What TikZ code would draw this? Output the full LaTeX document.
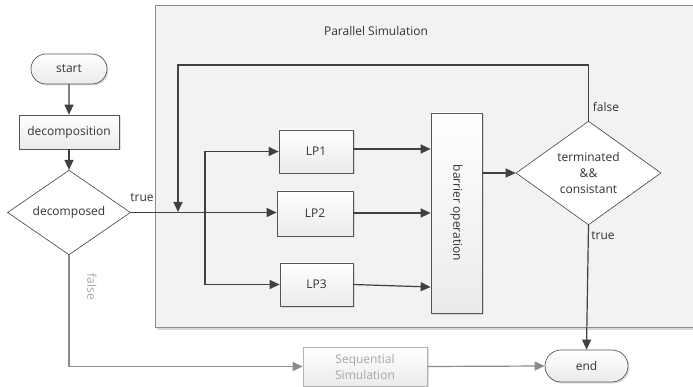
\documentclass[tikz,border=0pt]{standalone}
\usepackage{fontspec}
\setmainfont{Open Sans}
\usetikzlibrary{shapes.geometric,shapes.misc,arrows.meta,shadows,calc}
\definecolor{ln}{HTML}{404040}
\definecolor{bd}{HTML}{555555}
\definecolor{lg}{HTML}{8C8C8C}
\definecolor{lgt}{HTML}{A6A6A6}
\definecolor{pbg}{HTML}{F2F2F2}
\tikzset{
  every node/.style={font=\fontsize{12}{14}\selectfont, text=black!80},
  boxbase/.style={draw=bd, line width=0.7pt, top color=white, bottom color=black!8,
    drop shadow={shadow xshift=1.5pt, shadow yshift=-1.5pt, fill=black!25, opacity=0.5}, inner sep=0pt},
  procbox/.style={boxbase, rectangle},
  termbox/.style={boxbase, rounded rectangle},
  decbox/.style={draw=ln, line width=0.6pt, fill=white, diamond, inner sep=0pt},
  conn/.style={draw=ln, line width=1.2pt, -{Triangle[length=10pt,width=9pt]}},
  plain/.style={draw=ln, line width=1.2pt},
  grayconn/.style={draw=lg, line width=1.2pt, -{Triangle[length=10pt,width=9pt]}},
  lbl/.style={inner sep=1pt}
}
\begin{document}
\begin{tikzpicture}[x=1pt,y=-1pt]
\useasboundingbox (0,0) rectangle (693,387);
\clip (0,0) rectangle (693,387);
\fill[white] (0,0) rectangle (693,387);
% parallel simulation frame
\fill[black!15] (157,8) rectangle (700,329.5);
\draw[draw=lg, line width=0.8pt, fill=pbg] (155,5.5) rectangle (700,327);
\node (ptitle) at (376,31) {Parallel Simulation};
% nodes
\node[termbox, minimum width=76pt, minimum height=30pt] (start) at (69,69) {start};
\node[procbox, minimum width=100pt, minimum height=34pt] (decomp) at (69,132) {decomposition};
\node[decbox, minimum width=123pt, minimum height=73pt] (dec) at (69,212.5) {decomposed};
\node[procbox, minimum width=74pt, minimum height=43pt] (lp1) at (316,151.5) {LP1};
\node[procbox, minimum width=76pt, minimum height=45pt] (lp2) at (315,213.5) {LP2};
\node[procbox, minimum width=73pt, minimum height=43pt] (lp3) at (316.5,284.5) {LP3};
\node[procbox, minimum width=51pt, minimum height=200pt] (bar) at (456.5,213) {};
\node[rotate=-90] (bartext) at (bar.center) {barrier operation};
\node[decbox, minimum width=145pt, minimum height=92pt, align=center, font=\fontsize{12}{16}\selectfont] (term) at (588.5,173) {terminated\\\&\&\\consistant};
\node[termbox, minimum width=83pt, minimum height=32pt] (end) at (586.5,366) {end};
\node[procbox, draw=black!30, minimum width=124pt, minimum height=39pt, align=center, text=lgt, font=\fontsize{12}{16}\selectfont] (seq) at (365,366.5) {Sequential\\Simulation};
% connectors
\draw[conn] (start) -- (decomp);
\draw[conn] (decomp) -- (dec);
\coordinate (fb) at (178,212);
\coordinate (br) at (205,212);
\coordinate (fbtop) at (178,65);
\draw[conn] (dec.east) -- (dec.east -| lp2.west);
\draw[conn] (term.north) |- (fbtop) -- (fb);
\draw[plain] (br |- lp1.west) -- (br |- lp3.west);
\draw[conn] (br |- lp1.west) -- (lp1.west);
\draw[conn] (br |- lp3.west) -- (lp3.west);
\draw[conn] (lp1.east |- 0,149) -- (bar.west |- 0,149);
\draw[conn] (lp2.east |- 0,213) -- (bar.west |- 0,213);
\draw[conn] (lp3.east) -- (bar.west |- 0,287);
\draw[conn] (bar.east |- term.west) -- (term.west);
\draw[conn] (term.south) -- (end.north);
\draw[grayconn] (dec.south) |- (seq.west);
\draw[grayconn] (seq.east) -- (end.west);
% labels
\node[lbl] (ltrue1) at (142,198) {true};
\node[lbl] (lfalse1) at (606,107) {false};
\node[lbl] (ltrue2) at (603,236) {true};
\node[lbl, rotate=-90, text=lgt] (lfalse2) at (92,287) {false};
\end{tikzpicture}
\end{document}
